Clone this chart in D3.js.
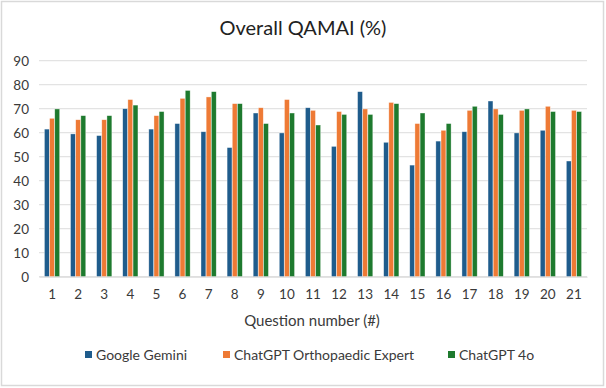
<!DOCTYPE html>
<html>
<head>
<meta charset="utf-8">
<script src="https://cdn.jsdelivr.net/npm/d3@7"></script>
<style>
  body { margin: 0; background: #fff; }
  svg { display: block; font-family: Lato, "Open Sans", sans-serif; }
</style>
</head>
<body>
<svg id="chart" width="606" height="388"></svg>
<script>
// Datos
const questions = d3.range(1, 22).map(String);
const seriesNames = ["Google Gemini", "ChatGPT Orthopaedic Expert", "ChatGPT 4o"];
const gemini = [61.5, 59.5, 58.8, 70, 61.5, 63.8, 60.4, 53.8, 68.2, 59.9, 70.4, 54.3, 77.1, 56, 46.5, 56.5, 60.4, 73.2, 59.9, 61, 48.2];
const orthoExpert = [66, 65.4, 65.4, 73.8, 67.1, 74.3, 74.9, 72.1, 70.4, 73.8, 69.3, 68.8, 69.9, 72.6, 63.8, 61, 69.3, 69.9, 69.3, 71, 69.3];
const gpt4o = [69.9, 67.1, 67.1, 71.5, 68.8, 77.6, 77.1, 72.1, 63.8, 68.2, 63.2, 67.6, 67.6, 72.1, 68.2, 63.8, 71, 67.6, 69.9, 68.8, 68.8];
const yTicks = [0, 10, 20, 30, 40, 50, 60, 70, 80, 90];
const colors = ["#1f5c8c", "#ee7a35", "#1e7a2e"];

const svg = d3.select("#chart");
const allSeries = [gemini, orthoExpert, gpt4o];

// Marco del gráfico
svg.append("rect")
  .attr("x", 1.5).attr("y", 1.5)
  .attr("width", 602).attr("height", 384)
  .attr("fill", "#fff")
  .attr("stroke", "#d9d9d9")
  .attr("stroke-width", 1.5);

// Escalas
const x = d3.scaleBand().domain(questions).range([39, 587]);
const xInner = d3.scaleBand().domain(seriesNames).range([0, x.bandwidth()]).paddingInner(0.05).paddingOuter(1.05);
const y = d3.scaleLinear().domain([0, 90]).range([276.7, 60.7]);

// Cuadrícula
svg.append("g")
  .selectAll("line")
  .data(yTicks)
  .join("line")
  .attr("x1", 39).attr("x2", 587)
  .attr("y1", d => y(d)).attr("y2", d => y(d))
  .attr("stroke", "#e3e3e3")
  .attr("stroke-width", 1.2);

// Eje Y
const yAxis = svg.append("g")
  .attr("transform", "translate(29,0)")
  .call(d3.axisLeft(y).tickValues(yTicks).tickSize(0).tickPadding(0));
yAxis.select(".domain").remove();
yAxis.selectAll("text")
  .attr("font-size", 13.5)
  .attr("fill", "#3a3a3a")
  .attr("font-family", "Lato, sans-serif");

// Barras
const groups = svg.append("g")
  .selectAll("g")
  .data(questions)
  .join("g")
  .attr("transform", d => `translate(${x(d)},0)`);

groups.selectAll("rect")
  .data((q, i) => allSeries.map((s, k) => ({ name: seriesNames[k], value: s[i], k })))
  .join("rect")
  .attr("x", d => xInner(d.name))
  .attr("width", xInner.bandwidth())
  .attr("y", d => y(d.value))
  .attr("height", d => y(0) - y(d.value))
  .attr("fill", d => colors[d.k])
  .attr("stroke", "#ffffff")
  .attr("stroke-opacity", 0.6)
  .attr("stroke-width", 0.6);

// Eje X
const xAxis = svg.append("g")
  .attr("transform", `translate(0,${y(0)})`)
  .call(d3.axisBottom(x).tickSize(0).tickPadding(13));
xAxis.select(".domain")
  .attr("stroke", "#d9d9d9");
xAxis.selectAll("text")
  .attr("font-size", 13.5)
  .attr("fill", "#3a3a3a")
  .attr("font-family", "Lato, sans-serif");

// Título
svg.append("text")
  .attr("x", 303).attr("y", 35)
  .attr("text-anchor", "middle")
  .attr("font-size", 20)
  .attr("fill", "#222")
  .text("Overall QAMAI (%)");

// Título del eje X
svg.append("text")
  .attr("x", 312).attr("y", 326)
  .attr("text-anchor", "middle")
  .attr("font-size", 15)
  .attr("fill", "#3a3a3a")
  .text("Question number (#)");

// Leyenda
const legendX = [85, 223, 448];
const legend = svg.append("g")
  .selectAll("g")
  .data(seriesNames)
  .join("g")
  .attr("transform", (d, i) => `translate(${legendX[i]},355)`);
legend.append("rect")
  .attr("x", 0).attr("y", -4)
  .attr("width", 7).attr("height", 7)
  .attr("fill", (d, i) => colors[i]);
legend.append("text")
  .attr("x", 11).attr("y", 0)
  .attr("dy", "0.35em")
  .attr("font-size", 14)
  .attr("fill", "#3a3a3a")
  .text(d => d);
</script>
</body>
</html>
